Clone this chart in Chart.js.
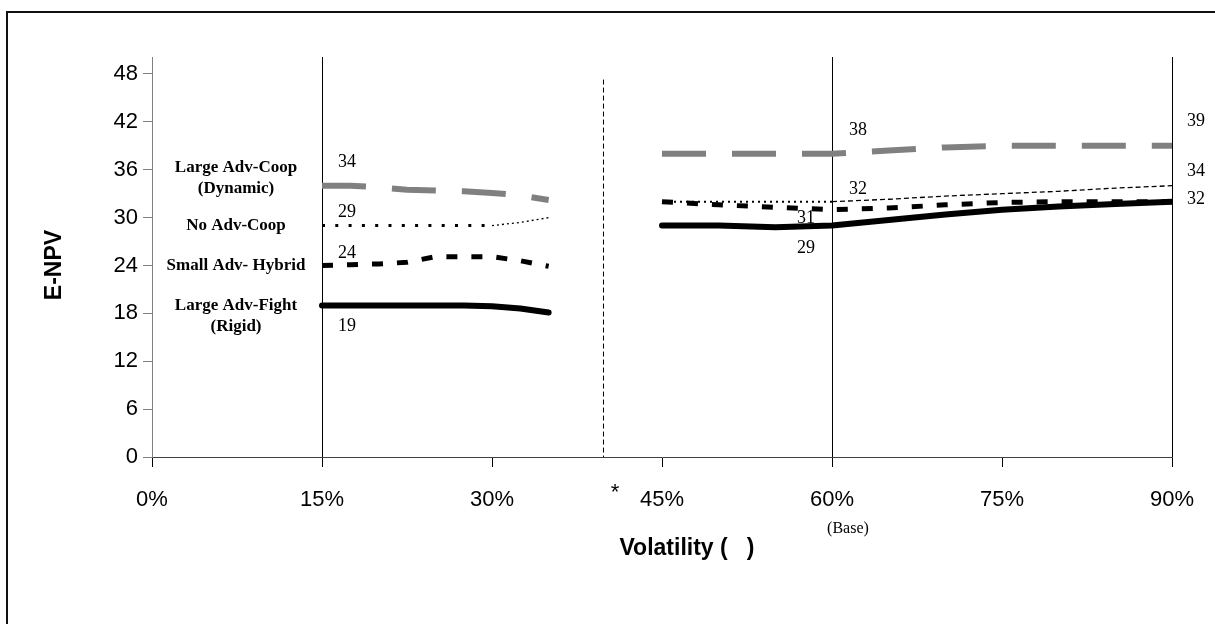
<!DOCTYPE html>
<html>
<head>
<meta charset="utf-8">
<script src="https://cdn.jsdelivr.net/npm/chart.js@4.4.0/dist/chart.umd.min.js"></script>
<style>
  html, body { margin: 0; padding: 0; background: #fff; }
  #wrap { width: 1215px; height: 624px; position: relative; }
</style>
</head>
<body>
<div id="wrap"><canvas id="c" width="1215" height="624"></canvas></div>
<script>
// Volatility levels (%) sampled in the low and high groups
const leftX  = [15, 17.5, 20, 22.5, 25, 27.5, 30, 32.5, 35];
const rightX = [45, 50, 55, 60, 65, 70, 75, 80, 85, 90];

// E-NPV by strategy
const coopLeft    = [34, 34, 33.8, 33.5, 33.4, 33.3, 33.1, 32.8, 32.2];
const coopRight   = [38, 38, 38, 38, 38.4, 38.8, 39, 39, 39, 39];
const noAdvLeft   = [29, 29, 29, 29, 29, 29, 29, 29.4, 30];
const noAdvRight  = [32, 32, 32, 32, 32.3, 32.7, 33, 33.3, 33.7, 34];
const hybridLeft  = [24, 24.1, 24.2, 24.4, 25.1, 25.1, 25.1, 24.6, 23.9];
const hybridRight = [32, 31.6, 31.3, 31, 31.2, 31.6, 31.9, 32, 32, 32];
const fightLeft   = [19, 19, 19, 19, 19, 19, 18.9, 18.6, 18.1];
const fightRight  = [29, 29, 28.8, 29, 29.7, 30.4, 31, 31.4, 31.7, 32];

// Axis ticks
const xTicks = [0, 15, 30, 45, 60, 75, 90];
const yTicks = [0, 6, 12, 18, 24, 30, 36, 42, 48];
const markedX = [15, 60, 90];   // volatility levels with a full reference line
const breakAt = 39.8;           // separator between the two groups
const breakTop = 47.3;

// Series captions beside the low group
const nameLines = {
  coop:   ['Large Adv-Coop', '(Dynamic)'],
  noAdv:  ['No Adv-Coop'],
  hybrid: ['Small Adv- Hybrid'],
  fight:  ['Large Adv-Fight', '(Rigid)']
};

const SANS = '"Liberation Sans", Arial, sans-serif';
const SERIF = '"Liberation Serif", "Times New Roman", serif';

function joined(xsL, ysL, xsR, ysR) {
  const a = xsL.map((x, i) => ({ x, y: ysL[i] }));
  const b = xsR.map((x, i) => ({ x, y: ysR[i] }));
  return a.concat([{ x: breakAt, y: null }], b);
}

const series = {
  fight:  { left: fightLeft,  right: fightRight },
  hybrid: { left: hybridLeft, right: hybridRight },
  noAdv:  { left: noAdvLeft,  right: noAdvRight },
  coop:   { left: coopLeft,   right: coopRight }
};

function valueAt(key, xv) {
  const s = series[key];
  let i = leftX.indexOf(xv);
  if (i >= 0) return s.left[i];
  i = rightX.indexOf(xv);
  return s.right[i];
}

function noAdvStyle(ctx) {
  const x0 = ctx.p0.parsed.x;
  if (x0 >= 60) return { w: 1.3, d: [5, 3] };
  if (x0 >= 45) return { w: 2, d: [2, 4] };
  if (x0 >= 30) return { w: 1.3, d: [2, 3] };
  return { w: 3, d: [3, 10.3] };
}

const datasets = [
  {
    label: 'Large Adv-Fight (Rigid)',
    data: joined(leftX, fightLeft, rightX, fightRight),
    borderColor: '#000', borderWidth: 6, borderCapStyle: 'round', borderJoinStyle: 'round'
  },
  {
    label: 'Small Adv- Hybrid',
    data: joined(leftX, hybridLeft, rightX, hybridRight),
    borderColor: '#000', borderWidth: 5, borderDash: [11, 14]
  },
  {
    label: 'No Adv-Coop',
    data: joined(leftX, noAdvLeft, rightX, noAdvRight),
    borderColor: '#000', borderWidth: 3, borderDash: [3, 10.3],
    segment: {
      borderWidth: ctx => noAdvStyle(ctx).w,
      borderDash: ctx => noAdvStyle(ctx).d
    }
  },
  {
    label: 'Large Adv-Coop (Dynamic)',
    data: joined(leftX, coopLeft, rightX, coopRight),
    borderColor: '#808080', borderWidth: 6, borderDash: [44, 26]
  }
];
datasets.forEach(d => { d.pointRadius = 0; d.tension = 0; d.fill = false; d.spanGaps = false; });

// Value labels: [series, x, dx, dy]
const valueLabels = [
  ['coop', 15, 25, -23], ['noAdv', 15, 25, -13], ['hybrid', 15, 25, -12], ['fight', 15, 25, 21],
  ['coop', 60, 26, -24], ['noAdv', 60, 26, -12], ['hybrid', 60, -26, 9], ['fight', 60, -26, 23],
  ['coop', 90, 24, -25], ['noAdv', 90, 24, -14], ['fight', 90, 24, -2]
];

const decor = {
  id: 'decor',
  beforeDraw(chart) {
    const c = chart.ctx;
    c.save();
    c.fillStyle = '#fff';
    c.fillRect(0, 0, chart.width, chart.height);
    c.strokeStyle = '#111';
    c.lineWidth = 2;
    c.beginPath();
    c.moveTo(7, chart.height + 2);
    c.lineTo(7, 12);
    c.lineTo(chart.width + 2, 12);
    c.stroke();
    c.restore();
  },
  afterDatasetsDraw(chart) {
    const c = chart.ctx;
    const xs = chart.scales.x, ys = chart.scales.y;
    c.save();
    // group separator
    const bx = Math.round(xs.getPixelForValue(breakAt)) + 0.5;
    c.strokeStyle = '#000';
    c.lineWidth = 1;
    c.setLineDash([5, 3]);
    c.beginPath();
    c.moveTo(bx, ys.getPixelForValue(breakTop));
    c.lineTo(bx, ys.bottom);
    c.stroke();
    c.setLineDash([]);

    // value labels
    c.fillStyle = '#000';
    c.font = '18px ' + SERIF;
    c.textAlign = 'center';
    c.textBaseline = 'middle';
    valueLabels.forEach(([key, xv, dx, dy]) => {
      const v = valueAt(key, xv);
      c.fillText(String(Math.round(v)), xs.getPixelForValue(xv) + dx, ys.getPixelForValue(v) + dy);
    });

    // series captions
    c.font = 'bold 17px ' + SERIF;
    const capX = xs.getPixelForValue(leftX[0]) - 86;
    Object.keys(nameLines).forEach(key => {
      const y0 = ys.getPixelForValue(valueAt(key, leftX[0])) + (key === 'coop' ? -18 : 0);
      nameLines[key].forEach((t, i) => c.fillText(t, capX, y0 + i * 21));
    });

    // axis titles and notes
    c.font = 'bold 23px ' + SANS;
    c.fillText('Volatility (   )', 687, 549);
    c.save();
    c.translate(55, 265);
    c.rotate(-Math.PI / 2);
    c.fillText('E-NPV', 0, 0);
    c.restore();
    c.font = '16px ' + SERIF;
    c.fillText('(Base)', xs.getPixelForValue(60) + 16, 529);
    c.font = '22px ' + SANS;
    c.fillText('*', xs.getPixelForValue(breakAt) + 12, 493);
    c.restore();
  }
};

new Chart(document.getElementById('c'), {
  type: 'line',
  data: { datasets },
  options: {
    responsive: false,
    animation: false,
    events: [],
    layout: { padding: { left: 20, right: 43, top: 57, bottom: 0 } },
    plugins: { legend: { display: false }, tooltip: { enabled: false } },
    scales: {
      x: {
        type: 'linear',
        min: xTicks[0],
        max: xTicks[xTicks.length - 1],
        afterFit(s) { s.height = 167; },
        afterBuildTicks(s) { s.ticks = xTicks.map(v => ({ value: v })); },
        ticks: {
          callback: v => v + '%',
          color: '#000',
          font: { family: SANS, size: 22 },
          padding: 20,
          maxRotation: 0,
          autoSkip: false
        },
        grid: {
          color: ctx => (ctx.tick && markedX.includes(ctx.tick.value)) ? '#000' : 'rgba(0,0,0,0)',
          tickColor: '#000',
          tickLength: 10,
          lineWidth: 1
        },
        border: { color: '#404040', width: 1 }
      },
      y: {
        min: 0,
        max: 50.13,
        afterFit(s) { s.width = 132; },
        afterBuildTicks(s) { s.ticks = yTicks.map(v => ({ value: v })); },
        ticks: {
          color: '#000',
          font: { family: SANS, size: 22 },
          padding: 5
        },
        grid: {
          drawOnChartArea: false,
          tickColor: '#808080',
          tickLength: 9
        },
        border: { color: '#808080', width: 1 }
      }
    }
  },
  plugins: [decor]
});
</script>
</body>
</html>
